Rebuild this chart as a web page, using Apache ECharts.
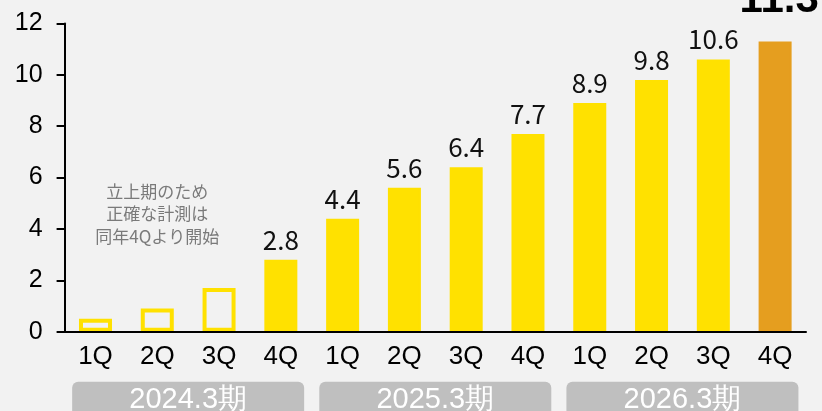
<!DOCTYPE html>
<html>
<head>
<meta charset="utf-8">
<script src="https://cdn.jsdelivr.net/npm/echarts@6/dist/echarts.min.js"></script>
<style>
  html, body { margin: 0; padding: 0; background: #f2f2f2; }
  #chart { width: 822px; height: 411px; }
</style>
</head>
<body>
<div id="chart"></div>
<script>
// Quarter categories and fiscal-period groups
const quarters = ['1Q', '2Q', '3Q', '4Q', '1Q', '2Q', '3Q', '4Q', '1Q', '2Q', '3Q', '4Q'];
const periods = ['2024.3期', '2025.3期', '2026.3期'];

// Early quarters are estimates (outlined); measured values start at 2024.3期 4Q
const estimated = [0.5, 0.9, 1.7, null, null, null, null, null, null, null, null, null];
const measured = [null, null, null, 2.8, 4.4, 5.6, 6.4, 7.7, 8.9, 9.8, 10.6, 11.3];
const highlightIndex = 11;

const yTicks = { min: 0, max: 12, interval: 2 };
const note = '立上期のため\n正確な計測は\n同年4Qより開始';

const YELLOW = '#FFE100';
const ORANGE = '#E59E1F';
const SANS = '"Liberation Sans", Arial, sans-serif';
const JP = '"Noto Sans CJK JP", "Noto Sans", sans-serif';

const barData = quarters.map((q, i) => {
  if (estimated[i] != null) {
    const item = {
      value: estimated[i],
      itemStyle: { color: 'rgba(0,0,0,0)', borderColor: YELLOW, borderWidth: 4 },
      label: { show: false }
    };
    if (i === 1) {
      item.label = {
        show: true, position: 'top', distance: 61,
        formatter: note, color: '#7a7a7a', fontSize: 17, lineHeight: 22.5,
        fontFamily: JP, fontWeight: 'normal', align: 'center'
      };
    }
    return item;
  }
  const color = i === highlightIndex ? ORANGE : YELLOW;
  const item = {
    value: measured[i],
    itemStyle: { color: color, borderColor: color, borderWidth: 2 }
  };
  if (i === highlightIndex) {
    item.label = {
      fontSize: 42, fontWeight: 'bold', fontFamily: SANS, color: '#000',
      distance: 20, offset: [4, 0]
    };
  }
  return item;
});

const chart = echarts.init(document.getElementById('chart'), null, { renderer: 'canvas' });
chart.setOption({
  backgroundColor: '#f2f2f2',
  animation: false,
  grid: {
    left: 64.6, right: 16, top: 23.5, bottom: 79.3,
    containLabel: false, outerBoundsMode: 'none'
  },
  xAxis: [
    {
      type: 'category',
      data: quarters,
      z: 10,
      axisLine: { lineStyle: { color: '#000', width: 2 } },
      axisTick: { show: false },
      axisLabel: { interval: 0, margin: 12, color: '#000', fontSize: 26, fontFamily: SANS }
    },
    {
      type: 'category',
      data: periods,
      position: 'bottom',
      axisLine: { show: false },
      axisTick: { show: false },
      axisLabel: {
        interval: 0, margin: 50, width: 232, overflow: 'none',
        backgroundColor: '#bfbfbf', borderRadius: 6,
        color: '#fff', fontSize: 29, fontFamily: SANS,
        lineHeight: 30, padding: [3, 0, 12, 0], align: 'center'
      }
    }
  ],
  yAxis: {
    type: 'value',
    min: yTicks.min, max: yTicks.max, interval: yTicks.interval,
    splitLine: { show: false },
    axisLine: { show: true, lineStyle: { color: '#000', width: 2 } },
    axisTick: { show: true, length: 8, lineStyle: { color: '#000', width: 2 } },
    axisLabel: { margin: 22, color: '#000', fontSize: 25, fontFamily: SANS }
  },
  series: [
    {
      type: 'bar',
      xAxisIndex: 0,
      data: barData,
      barWidth: 33,
      label: {
        show: true, position: 'top', distance: 7,
        color: '#111', fontSize: 26, fontFamily: JP, fontWeight: 'normal'
      }
    }
  ]
});
</script>
</body>
</html>
